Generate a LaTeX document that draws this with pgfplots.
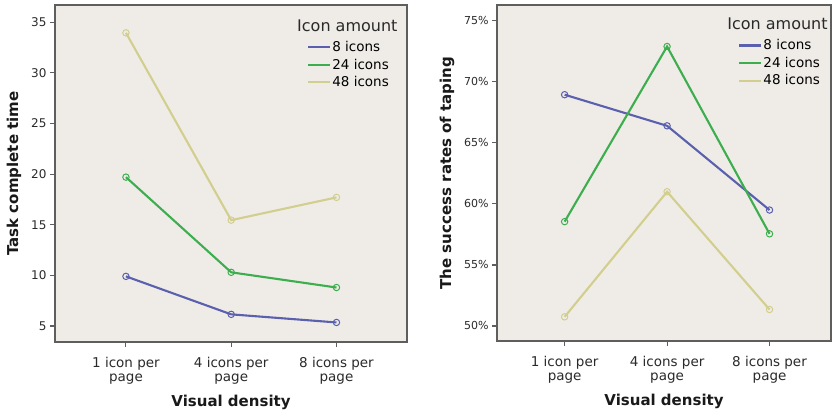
\documentclass[border=0pt]{standalone}
\usepackage{fontspec}
\setmainfont{DejaVu Sans}
\usepackage{pgfplots}
\pgfplotsset{compat=1.18}
\definecolor{cblue}{HTML}{5A5FAE}
\definecolor{cgreen}{HTML}{3DAE4E}
\definecolor{ckhaki}{HTML}{D2CE8E}
\definecolor{bgc}{HTML}{EFECE8}
\definecolor{axc}{HTML}{5E5E5E}
\definecolor{txt}{HTML}{2A2A2A}
\tikzset{ser/.style={#1, line width=2.1pt, mark=o, mark size=3.2pt, mark options={line width=1pt, fill=bgc, solid}}}
\pgfplotsset{
  myax/.style={
    scale only axis,
    anchor=south west,
    axis background/.style={fill=bgc},
    axis line style={axc, line width=1.1pt},
    tick style={axc, line width=1.1pt},
    tick align=outside,
    major tick length=5pt,
    xtick pos=bottom, ytick pos=left,
    xtick={0,1,2},
    xticklabels={{1 icon per\\page},{4 icons per\\page},{8 icons per\\page}},
    x tick label style={align=center, font=\fontsize{13.5}{14.5}\selectfont, text=txt, yshift=-6.5pt},
    y tick label style={text=txt},
    /pgf/number format/assume math mode=true,
    xlabel={\bfseries Visual density},
    xlabel style={yshift=-4pt},
    label style={font=\fontsize{15}{17}\selectfont, text=black!90},
    legend cell align=left,
    legend style={draw=none, fill=none, inner sep=0pt, font=\fontsize{13.5}{15}\selectfont, anchor=north west, row sep=2.8pt, nodes={inner xsep=1pt, inner ysep=1.5pt}},
    legend image code/.code={\draw[#1, mark=none] (0pt,0pt) -- (22pt,0pt);},
  }
}
\begin{document}
\begin{tikzpicture}
\path[use as bounding box] (0pt,0pt) rectangle (832pt,412pt);
\begin{axis}[myax, at={(55pt,70pt)}, width=352pt, height=337pt,
  xmin=-0.674, xmax=2.67, ymin=3.42, ymax=36.7,
  ytick={5,10,15,20,25,30,35},
  y tick label style={font=\fontsize{12}{13}\selectfont},
  ylabel={\bfseries Task complete time},
  ylabel style={at={(rel axis cs:0,0.5)}, anchor=center, yshift=41pt},
  legend style={at={(rel axis cs:0.716,0.897)}},
]
\addplot[ser=cblue] coordinates {(0,9.9) (1,6.15) (2,5.35)};
\addlegendentry{8 icons}
\addplot[ser=cgreen] coordinates {(0,19.7) (1,10.3) (2,8.8)};
\addlegendentry{24 icons}
\addplot[ser=ckhaki] coordinates {(0,33.95) (1,15.45) (2,17.7)};
\addlegendentry{48 icons}
\node[anchor=west, font=\fontsize{16}{18}\selectfont, text=txt, inner sep=0pt] at (rel axis cs:0.6875,0.937) {Icon amount};
\end{axis}
\begin{axis}[myax, at={(497pt,71pt)}, width=334pt, height=336pt,
  xmin=-0.66, xmax=2.6, ymin=48.77, ymax=76.3,
  ytick={50,55,60,65,70,75},
  yticklabels={50\%,55\%,60\%,65\%,70\%,75\%},
  y tick label style={font=\fontsize{11}{12}\selectfont},
  ylabel={\bfseries The success rates of taping},
  ylabel style={at={(rel axis cs:0,0.5)}, anchor=center, yshift=50pt},
  legend style={at={(rel axis cs:0.722,0.902)}},
]
\addplot[ser=cblue] coordinates {(0,68.95) (1,66.4) (2,59.5)};
\addlegendentry{8 icons}
\addplot[ser=cgreen] coordinates {(0,58.55) (1,72.9) (2,57.55)};
\addlegendentry{24 icons}
\addplot[ser=ckhaki] coordinates {(0,50.75) (1,61.0) (2,51.35)};
\addlegendentry{48 icons}
\node[anchor=west, font=\fontsize{16}{18}\selectfont, text=txt, inner sep=0pt] at (rel axis cs:0.689,0.943) {Icon amount};
\end{axis}
\end{tikzpicture}
\end{document}
